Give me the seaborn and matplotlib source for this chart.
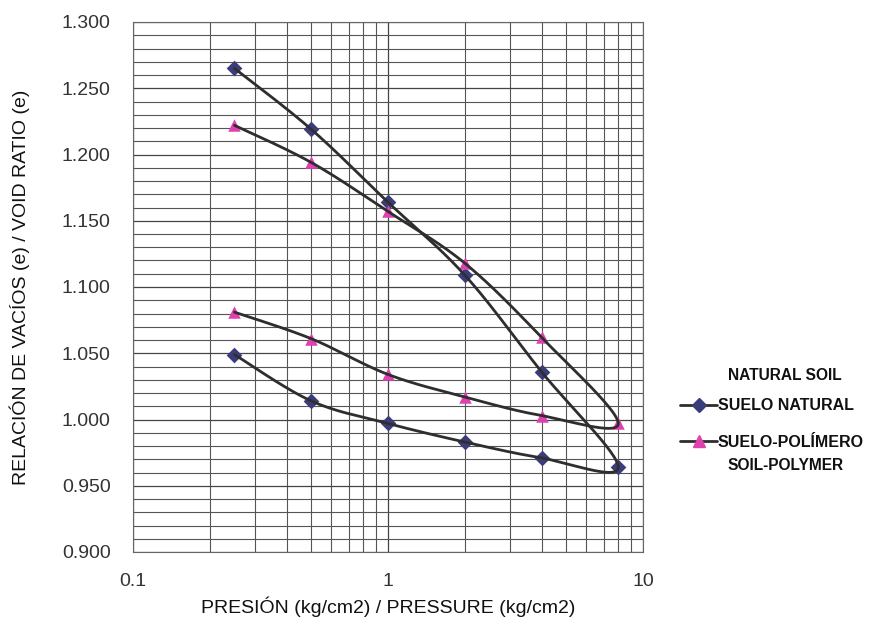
import numpy as np
import pandas as pd
import matplotlib
matplotlib.use("Agg")
import matplotlib.pyplot as plt
from matplotlib.lines import Line2D
import seaborn as sns

# Data (loading then unloading path)
pressure = [0.25, 0.5, 1, 2, 4, 8, 4, 2, 1, 0.5, 0.25]
natural_soil = [1.265, 1.219, 1.164, 1.109, 1.036, 0.964, 0.971, 0.983, 0.997, 1.014, 1.049]
soil_polymer = [1.222, 1.194, 1.157, 1.118, 1.062, 0.997, 1.003, 1.017, 1.034, 1.061, 1.081]
series_names = ["SUELO NATURAL", "SUELO-POLÍMERO"]
extra_names = ["NATURAL SOIL", "SOIL-POLYMER"]
y_ticks = [0.900, 0.950, 1.000, 1.050, 1.100, 1.150, 1.200, 1.250, 1.300]
x_ticks = [0.1, 1, 10]

sns.set_style("white")
plt.rcParams['font.family'] = ['Liberation Sans', 'DejaVu Sans']

fig = plt.figure(figsize=(8.69, 6.24), dpi=100)
ax = fig.add_axes([133/869, 1-552/624, (643-133)/869, (552-22)/624])
ax.set_xscale("log")
ax.set_xlim(0.1, 10)
ax.set_ylim(0.9, 1.3)

# grid
ax.set_yticks(y_ticks)
ax.set_yticks(np.round(np.arange(0.90, 1.3001, 0.01), 3), minor=True)
ax.set_xticks(x_ticks)
ax.grid(True, which="major", color="#444444", linewidth=0.9)
ax.grid(True, which="minor", color="#555555", linewidth=0.8)
ax.set_axisbelow(True)
for s in ax.spines.values():
    s.set_color("#666666")
    s.set_linewidth(0.8)
ax.tick_params(which="both", length=0)
ax.set_yticklabels([f"{v:.3f}" for v in y_ticks], fontsize=14, color="#333333")
ax.set_xticklabels(["0.1", "1", "10"], fontsize=14, color="#333333")
ax.tick_params(axis="x", pad=15)
ax.tick_params(axis="y", pad=16)

line_color = "#2e2e2e"
colors = ["#3b3d7a", "#e040b0"]
markers = ["D", "^"]
msizes = [8, 9]


def smooth(xs, ys, n=30):
    # Catmull-Rom smoothing in (log x, y) space, similar to spreadsheet smooth lines
    lx = np.log10(np.asarray(xs, float))
    yy = np.asarray(ys, float)
    sx = (lx - np.log10(0.1)) / 2.0 * 510
    sy = (yy - 0.9) / 0.4 * 530
    P = np.column_stack([sx, sy])
    out = []
    for i in range(len(P) - 1):
        p0 = P[i - 1] if i > 0 else P[i]
        p1 = P[i]
        p2 = P[i + 1]
        p3 = P[i + 2] if i + 2 < len(P) else P[i + 1]
        c1 = p1 + (p2 - p0) / 6
        c2 = p2 - (p3 - p1) / 6
        t = np.linspace(0, 1, n)[:, None]
        seg = (1 - t) ** 3 * p1 + 3 * (1 - t) ** 2 * t * c1 + 3 * (1 - t) * t ** 2 * c2 + t ** 3 * p2
        out.append(seg if i == 0 else seg[1:])
    out = np.vstack(out)
    xo = 10 ** (out[:, 0] / 510 * 2.0 + np.log10(0.1))
    yo = out[:, 1] / 530 * 0.4 + 0.9
    return xo, yo


for vals, c, m, ms in zip([natural_soil, soil_polymer], colors, markers, msizes):
    df = pd.DataFrame({"p": pressure, "e": vals})
    sns.scatterplot(data=df, x="p", y="e", ax=ax, color=c, marker=m, s=ms ** 2,
                    edgecolor=c, linewidth=0, zorder=3)
    xs, ys = smooth(pressure, vals)
    ax.plot(xs, ys, color=line_color, linewidth=2.0, zorder=4, solid_capstyle="round")

ax.set_xlabel("PRESIÓN (kg/cm2) / PRESSURE (kg/cm2)", fontsize=14, color="#111111")
ax.set_ylabel("RELACIÓN DE VACÍOS (e) / VOID RATIO (e)", fontsize=14, color="#111111")
ax.xaxis.set_label_coords((388-133)/510, -(607-552)/530)
ax.yaxis.set_label_coords(-(133-20)/510, 0.5)
ax.xaxis.label.set_va("center")
ax.yaxis.label.set_va("center")

handles = [Line2D([0], [0], color=line_color, linewidth=2.0, marker=m, markersize=ms - 1,
                  markerfacecolor=c, markeredgecolor=c)
           for c, m, ms in zip(colors, markers, msizes)]
leg = fig.legend(handles, series_names, loc="upper left", bbox_to_anchor=(666/869, 1-384/624),
                 frameon=False, handlelength=2.3, handletextpad=0.05, labelspacing=1.35,
                 prop={"weight": "bold", "size": 11.5})
for t in leg.get_texts():
    t.set_color("#111111")
fig.text(728/869, 1-376/624, extra_names[0], fontsize=11.2, fontweight="bold", va="center", color="#111111")
fig.text(728/869, 1-466/624, extra_names[1], fontsize=11.2, fontweight="bold", va="center", color="#111111")

fig.savefig("out.png", dpi=100, facecolor="white")
